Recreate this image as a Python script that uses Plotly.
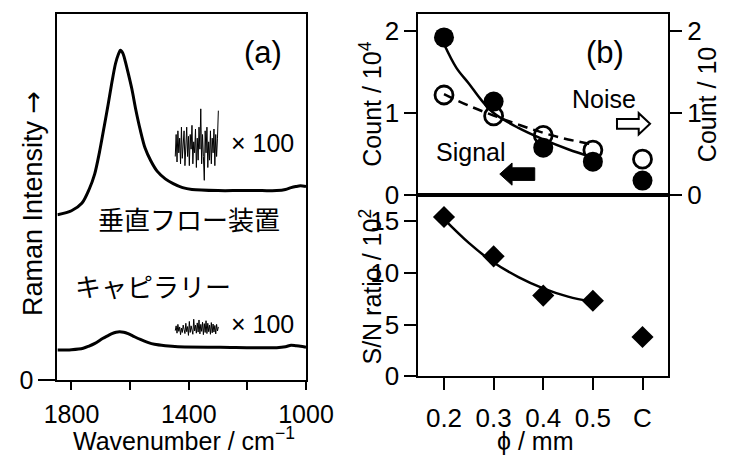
import plotly.graph_objects as go

W, H = 748, 457

# ---------------- Panel (a) data: Raman spectra (arbitrary intensity units) ----------------
flow_wn = [1848, 1800, 1764, 1740, 1721, 1705, 1688, 1675, 1662, 1650, 1640, 1633, 1625, 1617,
           1607, 1594, 1581, 1565, 1549, 1530, 1508, 1480, 1453, 1421, 1389, 1300, 1228, 1150,
           1100, 1070, 1051, 1035, 1019, 1000]
flow_int = [4.51, 4.62, 4.83, 5.20, 5.62, 6.20, 6.94, 7.52, 8.13, 8.63, 8.89, 9.00, 8.92, 8.71,
            8.39, 7.94, 7.39, 6.81, 6.33, 5.99, 5.70, 5.49, 5.36, 5.25, 5.20, 5.17, 5.17, 5.17,
            5.17, 5.20, 5.25, 5.28, 5.30, 5.28]

cap_wn = [1848, 1800, 1760, 1742, 1720, 1694, 1675, 1662, 1648, 1636, 1622, 1607, 1590, 1565,
          1540, 1517, 1480, 1437, 1292, 1100, 1070, 1051, 1035, 1019, 1000]
cap_int = [0.818, 0.831, 0.871, 0.923, 1.003, 1.135, 1.214, 1.266, 1.306, 1.319, 1.306, 1.266,
           1.201, 1.108, 1.029, 0.976, 0.937, 0.910, 0.897, 0.884, 0.910, 0.950, 0.937, 0.923, 0.897]

noise_wn = [1446, 1443, 1440, 1437, 1434, 1431, 1428, 1425, 1422, 1419,
            1416, 1413, 1410, 1407, 1404, 1401, 1398, 1395, 1392, 1389,
            1386, 1383, 1380, 1377, 1374, 1371, 1368, 1365, 1362, 1359,
            1356, 1353, 1350, 1347, 1344, 1341, 1338, 1335, 1332, 1329,
            1326, 1323, 1320, 1317, 1314, 1311, 1308, 1305, 1302, 1299]
flow_noise = [6.10, 6.70, 5.95, 6.80, 6.20, 6.60, 5.90, 6.90, 6.05, 6.50,
              6.80, 5.85, 6.40, 6.90, 6.10, 6.65, 5.85, 6.70, 6.30, 6.95,
              5.90, 6.50, 6.20, 6.85, 5.80, 6.60, 6.00, 6.90, 6.30, 7.40,
              5.90, 6.70, 6.10, 5.45, 6.80, 6.20, 6.90, 5.80, 6.50, 6.00,
              6.80, 5.90, 6.60, 6.20, 6.85, 5.85, 6.70, 6.10, 6.60, 7.35]
cap_noise = [1.35, 1.48, 1.28, 1.52, 1.33, 1.45, 1.24, 1.42, 1.30, 1.50,
             1.38, 1.27, 1.55, 1.32, 1.46, 1.22, 1.60, 1.30, 1.48, 1.36,
             1.25, 1.66, 1.34, 1.50, 1.28, 1.56, 1.31, 1.64, 1.26, 1.52,
             1.33, 1.58, 1.24, 1.54, 1.30, 1.62, 1.27, 1.55, 1.32, 1.50,
             1.25, 1.57, 1.29, 1.53, 1.31, 1.49, 1.26, 1.52, 1.34, 1.45]

wn_ticks = [1800, 1600, 1400, 1200, 1000]
wn_ticktext = ["1800", " ", "1400", " ", "1000"]

# ---------------- Panel (b) data ----------------
phi_labels = ["0.2", "0.3", "0.4", "0.5", "C"]
phi_pos = [0.2, 0.3, 0.4, 0.5, 0.6]
signal = [1.92, 1.14, 0.58, 0.41, 0.18]      # Count / 10^4 (left)
noise = [1.22, 0.965, 0.73, 0.55, 0.44]      # Count / 10 (right)
sn_ratio = [15.4, 11.6, 7.8, 7.3, 3.8]       # S/N ratio / 10^2

signal_fit_phi = [0.2, 0.225, 0.25, 0.275, 0.3, 0.35, 0.4, 0.45, 0.5]
signal_fit = [1.84, 1.55, 1.36, 1.16, 1.00, 0.82, 0.68, 0.56, 0.46]
noise_fit_phi = [0.2, 0.25, 0.3, 0.35, 0.4, 0.45, 0.5]
noise_fit = [1.23, 1.09, 0.97, 0.86, 0.76, 0.68, 0.62]
sn_fit_phi = [0.2, 0.25, 0.3, 0.35, 0.4, 0.45, 0.5]
sn_fit = [15.2, 12.9, 11.0, 9.6, 8.5, 7.7, 7.2]

FONT = "Liberation Sans, Arial, Helvetica, sans-serif"
JFONT = "Noto Sans CJK JP, sans-serif"


def px(x, y):
    return x / W, 1 - y / H


fig = go.Figure()

# spectra
fig.add_trace(go.Scatter(x=flow_wn, y=flow_int, mode="lines", line=dict(color="black", width=3, shape="spline", smoothing=0.8),
                         xaxis="x", yaxis="y", showlegend=False, hoverinfo="skip"))
fig.add_trace(go.Scatter(x=cap_wn, y=cap_int, mode="lines", line=dict(color="black", width=3, shape="spline", smoothing=0.8),
                         xaxis="x", yaxis="y", showlegend=False, hoverinfo="skip"))
fig.add_trace(go.Scatter(x=noise_wn, y=flow_noise, mode="lines", line=dict(color="black", width=1),
                         xaxis="x", yaxis="y", showlegend=False, hoverinfo="skip"))
fig.add_trace(go.Scatter(x=noise_wn, y=cap_noise, mode="lines", line=dict(color="black", width=1),
                         xaxis="x", yaxis="y", showlegend=False, hoverinfo="skip"))

# panel (b) top
fig.add_trace(go.Scatter(x=signal_fit_phi, y=signal_fit, mode="lines", line=dict(color="black", width=2.5, shape="spline"),
                         xaxis="x2", yaxis="y2", showlegend=False))
fig.add_trace(go.Scatter(x=noise_fit_phi, y=noise_fit, mode="lines",
                         line=dict(color="black", width=2.5, shape="spline", dash="10px,6px"),
                         xaxis="x2", yaxis="y3", showlegend=False))
fig.add_trace(go.Scatter(x=phi_pos, y=signal, mode="markers", marker=dict(color="black", size=20, symbol="circle"),
                         xaxis="x2", yaxis="y2", showlegend=False))
fig.add_trace(go.Scatter(x=phi_pos, y=noise, mode="markers",
                         marker=dict(color="black", size=18, symbol="circle-open", line=dict(width=2.8, color="black")),
                         xaxis="x2", yaxis="y3", showlegend=False))

# panel (b) bottom
fig.add_trace(go.Scatter(x=sn_fit_phi, y=sn_fit, mode="lines", line=dict(color="black", width=2.5, shape="spline"),
                         xaxis="x3", yaxis="y4", showlegend=False))
fig.add_trace(go.Scatter(x=phi_pos, y=sn_ratio, mode="markers", marker=dict(color="black", size=17, symbol="diamond"),
                         xaxis="x3", yaxis="y4", showlegend=False))

ax_a = dict(showline=True, linecolor="black", linewidth=2.2, showgrid=False, zeroline=False,
            ticks="outside", tickcolor="black", tickwidth=2.2,
            tickfont=dict(family=FONT, size=25, color="black"))
ax_b = dict(ax_a, tickfont=dict(family=FONT, size=26, color="black"))

xa_dom = [47 / W, 310 / W]
xb_dom = [429 / W, 693 / W]
phi_range = [0.1486, 0.6514]

fig.update_layout(
    width=W, height=H, margin=dict(l=0, r=0, t=0, b=0),
    paper_bgcolor="white", plot_bgcolor="white",
    font=dict(family=FONT, color="black"),
    xaxis=dict(ax_a, domain=xa_dom, range=[1848, 1000], tickvals=wn_ticks, ticktext=wn_ticktext,
               ticklen=8, ticklabelstandoff=3, mirror=True, anchor="y"),
    yaxis=dict(ax_a, domain=[1 - 393 / H, 1 - 14 / H], range=[0, 10], tickvals=[0], ticktext=["0"],
               ticklen=17, mirror=True, anchor="x"),
    xaxis2=dict(ax_b, domain=xb_dom, range=phi_range, tickvals=phi_pos, ticks="", showticklabels=False,
                mirror=True, anchor="y2"),
    yaxis2=dict(ax_b, domain=[1 - 202 / H, 1 - 14 / H], range=[0, 2.21], tickvals=[0, 1, 2],
                ticklen=12, mirror=True, anchor="x2"),
    yaxis3=dict(ax_b, overlaying="y2", side="right", range=[0, 2.21], tickvals=[0, 1, 2],
                ticklen=12, anchor="x2"),
    xaxis3=dict(ax_b, domain=xb_dom, range=phi_range, tickvals=phi_pos, ticktext=phi_labels,
                ticklen=12, ticklabelstandoff=5, mirror=True, anchor="y4"),
    yaxis4=dict(ax_b, domain=[1 - 389 / H, 1 - 202 / H], range=[0, 17.5], tickvals=[0, 5, 10, 15],
                ticklen=12, mirror=True, anchor="x3"),
)


def label(text, x, y, size=25, angle=0, family=FONT, xanchor="center", yanchor="middle", yshift=0):
    ax, ay = px(x, y)
    fig.add_annotation(text=text, x=ax, y=ay, xref="paper", yref="paper", showarrow=False,
                       textangle=angle, xanchor=xanchor, yanchor=yanchor, yshift=yshift,
                       font=dict(family=family, size=size, color="black"))


label("(a)", 264, 54, size=31)
label("垂直フロー装置", 186, 226, size=26, family=JFONT)
label("キャピラリー", 148, 295, size=26, family=JFONT)
label("× 100", 229, 148, size=25, xanchor="left")
label("× 100", 229, 335, size=25, xanchor="left")
label("Raman Intensity <span style='font-family:DejaVu Sans'>→</span>", 20, 210, size=27, angle=-90)
label("Wavenumber / cm<sup>−1</sup>", 181, 457, size=25, yanchor="bottom", yshift=-15)

label("(b)", 626, 54, size=31)
label("Noise", 625, 102, size=25)
label("Signal", 485, 157, size=25)
label("Count / 10<sup>4</sup>", 379, 108, size=25, angle=-90)
label("S/N ratio / 10<sup>2</sup>", 379, 296, size=25, angle=-90)
label("Count / 10", 735, 108, size=25, angle=-90)
label("ϕ / mm", 553, 457, size=25, yanchor="bottom", yshift=-15)


def path(points):
    parts = []
    for i, (x, y) in enumerate(points):
        a, b = px(x, y)
        parts.append(("M" if i == 0 else "L") + f"{a:.5f},{b:.5f}")
    return " ".join(parts) + " Z"


# filled arrow (Signal -> left axis)
fig.add_shape(type="path", xref="paper", yref="paper",
              path=path([(515, 180), (528, 168.5), (528, 173.5), (552, 173.5), (552, 186.5), (528, 186.5), (528, 191.5)]),
              fillcolor="black", line=dict(color="black", width=1))
# open arrow (Noise -> right axis)
fig.add_shape(type="path", xref="paper", yref="paper",
              path=path([(639, 123), (662, 123), (662, 117), (674, 128), (662, 139), (662, 133), (639, 133)]),
              fillcolor="white", line=dict(color="black", width=2))

fig.write_html("out.html", config={"displayModeBar": False},
               post_script="document.body.style.margin='0';document.body.style.overflow='hidden';")
